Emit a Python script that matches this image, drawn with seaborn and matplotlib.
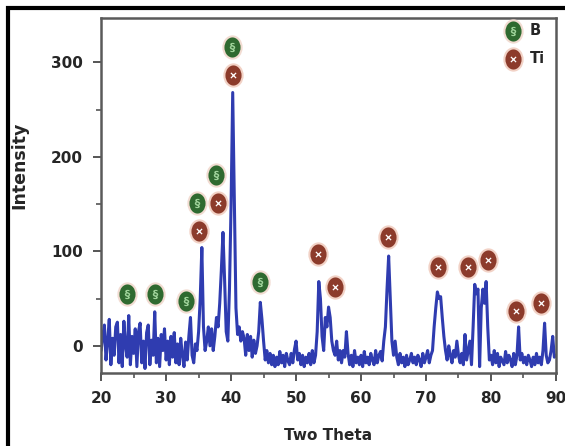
import matplotlib
matplotlib.use('Agg')
import matplotlib.pyplot as plt
from matplotlib.path import Path
from matplotlib.transforms import Affine2D
from matplotlib.patches import Rectangle
from matplotlib.ticker import MultipleLocator
import seaborn as sns

# XRD pattern (0.25 deg steps)
two_theta = [
    20.0, 20.25, 20.5, 20.75, 21.0, 21.25, 21.5, 21.75, 22.0, 22.25, 22.5, 22.75,
    23.0, 23.25, 23.5, 23.75, 24.0, 24.25, 24.5, 24.75, 25.0, 25.25, 25.5, 25.75,
    26.0, 26.25, 26.5, 26.75, 27.0, 27.25, 27.5, 27.75, 28.0, 28.25, 28.5, 28.75,
    29.0, 29.25, 29.5, 29.75, 30.0, 30.25, 30.5, 30.75, 31.0, 31.25, 31.5, 31.75,
    32.0, 32.25, 32.5, 32.75, 33.0, 33.25, 33.5, 33.75, 34.0, 34.25, 34.5, 34.75,
    35.0, 35.25, 35.5, 35.75, 36.0, 36.25, 36.5, 36.75, 37.0, 37.25, 37.5, 37.75,
    38.0, 38.25, 38.5, 38.75, 39.0, 39.25, 39.5, 39.75, 40.0, 40.25, 40.5, 40.75,
    41.0, 41.25, 41.5, 41.75, 42.0, 42.25, 42.5, 42.75, 43.0, 43.25, 43.5, 43.75,
    44.0, 44.25, 44.5, 44.75, 45.0, 45.25, 45.5, 45.75, 46.0, 46.25, 46.5, 46.75,
    47.0, 47.25, 47.5, 47.75, 48.0, 48.25, 48.5, 48.75, 49.0, 49.25, 49.5, 49.75,
    50.0, 50.25, 50.5, 50.75, 51.0, 51.25, 51.5, 51.75, 52.0, 52.25, 52.5, 52.75,
    53.0, 53.25, 53.5, 53.75, 54.0, 54.25, 54.5, 54.75, 55.0, 55.25, 55.5, 55.75,
    56.0, 56.25, 56.5, 56.75, 57.0, 57.25, 57.5, 57.75, 58.0, 58.25, 58.5, 58.75,
    59.0, 59.25, 59.5, 59.75, 60.0, 60.25, 60.5, 60.75, 61.0, 61.25, 61.5, 61.75,
    62.0, 62.25, 62.5, 62.75, 63.0, 63.25, 63.5, 63.75, 64.0, 64.25, 64.5, 64.75,
    65.0, 65.25, 65.5, 65.75, 66.0, 66.25, 66.5, 66.75, 67.0, 67.25, 67.5, 67.75,
    68.0, 68.25, 68.5, 68.75, 69.0, 69.25, 69.5, 69.75, 70.0, 70.25, 70.5, 70.75,
    71.0, 71.25, 71.5, 71.75, 72.0, 72.25, 72.5, 72.75, 73.0, 73.25, 73.5, 73.75,
    74.0, 74.25, 74.5, 74.75, 75.0, 75.25, 75.5, 75.75, 76.0, 76.25, 76.5, 76.75,
    77.0, 77.25, 77.5, 77.75, 78.0, 78.25, 78.5, 78.75, 79.0, 79.25, 79.5, 79.75,
    80.0, 80.25, 80.5, 80.75, 81.0, 81.25, 81.5, 81.75, 82.0, 82.25, 82.5, 82.75,
    83.0, 83.25, 83.5, 83.75, 84.0, 84.25, 84.5, 84.75, 85.0, 85.25, 85.5, 85.75,
    86.0, 86.25, 86.5, 86.75, 87.0, 87.25, 87.5, 87.75, 88.0, 88.25, 88.5, 88.75,
    89.0, 89.25, 89.5, 89.75, 90.0,
]
intensity = [
    -5, 10, 22, -15,  5, 28, -20, 8,  -10, 20, 25, -18,
    12, -22, 26, 0,  -12, 32, -20, 10,  -8, 18, -22, 15,
    24, -18, 5, -24,  14, 22, -20, 6,  -10, 36, -18, 8,
    -22, 12, -5, 18,  -15, 5, -20, 10,  -12, 14, -18, 2,
    -20, 8, -10, -22,  4, -15, 10, 30,  -10, -18, 2, -5,
    15, 50, 104, 20,  -5, 5, 20, 0,  18, -5, 10, 30,
    20, 45, 80, 120,  70, 15, 5, 60,  150, 268, 150, 40,
    12, 20, 5, 15,  8, -10, 12, -5,  10, -12, 6, -8,
    0, 15, 46, 28,  5, -15, -5, -18,  -8, -20, -10, -22,
    -12, -20, -6, -18,  -10, -22, -8, -16,  -20, -8, -18, -4,
    5, -15, -8, -20,  -10, -22, -12, -18,  -8, -20, -5, -18,
    -10, 15, 68, 50,  10, -5, 30, 20,  41, 30, 5, -5,
    -10, 5, -15, -5,  -18, -5, -12, 15,  -8, -20, -10, -22,
    -5, -18, -12, -20,  -10, -22, -6, -18,  -12, -20, -8, -15,
    -20, -5, -18, -10,  -6, -16, 5, 20,  60, 95, 50, 5,
    -10, 5, -12, -20,  -8, -18, -12, -22,  -10, -20, -15, -8,
    -18, -12, -20, -10,  -15, -22, -8, -18,  -12, -5, -18, -10,
    -5, 20, 40, 57,  50, 52, 30, 10,  -5, -15, 0, -10,
    -18, -5, -12, 5,  -10, -18, -8, -20,  12, -15, -5, 5,
    -20, 20, 65, 55,  60, -22, 40, 60,  45, 68, 20, -15,
    -10, -20, -5, -18,  -8, -22, -12, -16,  -20, -6, -18, -10,
    -15, -22, -8, -20,  -10, 20, -15, -8,  -18, -12, -20, -10,
    -15, -22, -12, -20,  -8, -18, -12, -20,  -5, 24, -10, -18,
    -15, -5, 10, -12,  -10,
]

# phase markers
b_theta = [24.0, 28.3, 33.1, 34.8, 37.7, 40.2, 44.5]
b_int = [55, 55, 47, 151, 181, 316, 67]
ti_theta = [35.1, 38.0, 40.3, 53.4, 56.0, 64.2, 71.8, 76.5, 79.5, 83.8, 87.7]
ti_int = [122, 151, 286, 97, 62, 115, 83, 83, 91, 37, 45]

sns.set_style('ticks')
plt.rcParams['font.family'] = ['DejaVu Sans']
plt.rcParams['font.weight'] = 'bold'

fig, ax = plt.subplots(figsize=(5.65, 4.46), dpi=100)
fig.subplots_adjust(left=0.179, right=0.984, top=0.96, bottom=0.164)

sns.lineplot(x=two_theta, y=intensity, color='#2f3cb0', lw=2.2, ax=ax,
             estimator=None, sort=False, zorder=2)

oval = Path.unit_circle().transformed(Affine2D().scale(0.82, 1.0))
b_sc = ax.scatter(b_theta, b_int, marker=oval, s=256, color='#2f6a30',
                  edgecolor='#f2dcd2', linewidth=1.5, zorder=3)
b_in = ax.scatter(b_theta, b_int, marker='$\\S$', s=45, color='#9fd39a',
                  linewidth=0, zorder=4)
ti_sc = ax.scatter(ti_theta, ti_int, marker=oval, s=256, color='#8c3b2b',
                   edgecolor='#f2d2c6', linewidth=1.5, zorder=3)
ti_in = ax.scatter(ti_theta, ti_int, marker='x', s=14, color='white',
                   linewidth=0.9, zorder=4)

ax.legend([(b_sc, b_in), (ti_sc, ti_in)], ['B', 'Ti'], loc='upper right',
          bbox_to_anchor=(0.975, 0.985), frameon=False, borderaxespad=0,
          borderpad=0, handlelength=1.0, handletextpad=0.6, labelspacing=0.9,
          prop={'size': 10.5, 'weight': 'bold'})

ax.set_xlim(20, 90)
ax.set_ylim(-28.6, 347)
ax.xaxis.set_major_locator(MultipleLocator(10))
ax.xaxis.set_minor_locator(MultipleLocator(5))
ax.yaxis.set_major_locator(MultipleLocator(100))
ax.yaxis.set_minor_locator(MultipleLocator(50))
ax.tick_params(which='major', direction='out', length=6, width=1.4,
               color='#555555', labelsize=11, pad=7)
ax.tick_params(which='minor', direction='out', length=3.5, width=1.2,
               color='#555555')
for s in ax.spines.values():
    s.set_visible(True)
    s.set_color('#5a5a5a')
    s.set_linewidth(1.8)

ax.set_xlabel('Two Theta', fontsize=11, fontweight='bold')
ax.set_ylabel('Intensity', fontsize=12.5, fontweight='bold')
ax.xaxis.set_label_coords(0.5, -0.155)
ax.yaxis.set_label_coords(-0.16, 0.586)

# outer black frame (only left/top edges fall inside the picture)
fig.add_artist(Rectangle((8 / 565, -0.1), 1.2, 1.1 - 7.5 / 446,
                         transform=fig.transFigure, fill=False,
                         ec='black', lw=3))

fig.savefig('out.png', dpi=100)
